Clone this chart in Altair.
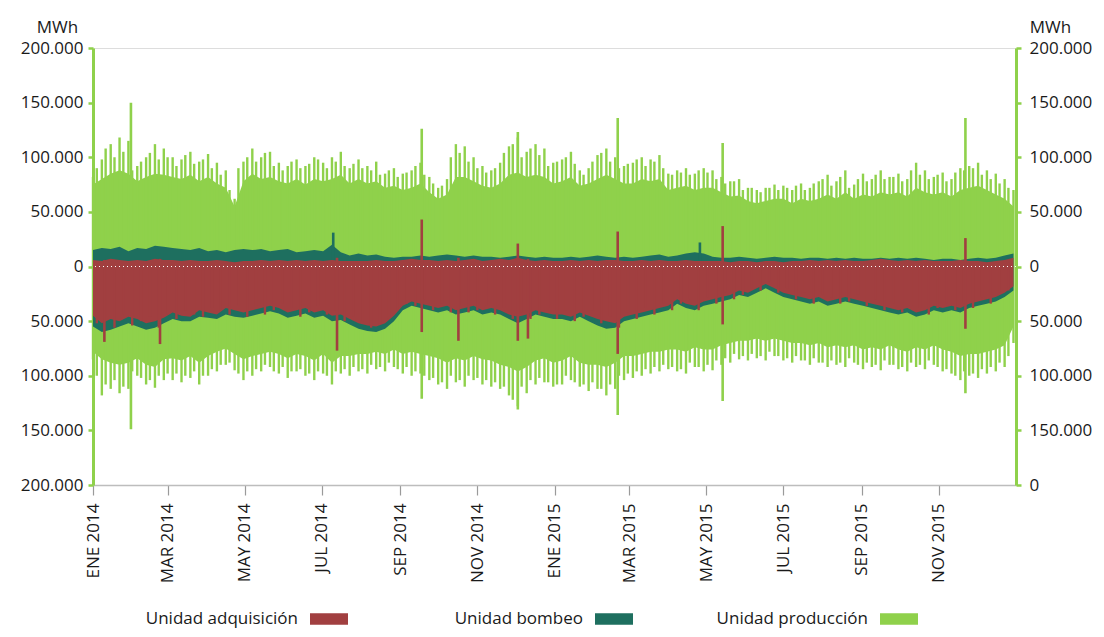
import altair as alt
import pandas as pd

# weekly sample dates (x categories) and mid-week dates
weeks = pd.date_range("2014-01-01", periods=105, freq="7D").strftime("%Y-%m-%d").tolist()
mid_weeks = pd.date_range("2014-01-04", periods=104, freq="7D").strftime("%Y-%m-%d").tolist()

# Unidad producción (thousand MWh) – upper peaks / solid base, lower peaks / solid base
g_top_peak = [82, 98, 112, 118, 115, 92, 100, 112, 108,
              100, 98, 105, 96, 103, 95, 88, 62, 96,
              108, 100, 105, 95, 92, 98, 92, 100, 95,
              100, 105, 90, 98, 92, 96, 85, 90, 85,
              88, 95, 82, 72, 80, 112, 110, 100, 92,
              88, 95, 110, 118, 105, 112, 108, 95,
              98, 105, 88, 90, 102, 108, 100, 92,
              95, 100, 98, 102, 85, 88, 90, 85, 90,
              88, 82, 78, 80, 72, 70, 72, 75, 74,
              70, 76, 72, 78, 84, 78, 88, 75, 85,
              80, 88, 82, 85, 80, 95, 88, 82, 86,
              80, 90, 92, 95, 88, 85, 80, 70]
g_top_base = [75, 80, 85, 88, 85, 78, 82, 85, 84,
              82, 80, 84, 78, 82, 76, 72, 55, 78,
              85, 80, 82, 78, 76, 80, 75, 80, 78,
              80, 84, 76, 80, 76, 78, 72, 74, 70,
              72, 76, 68, 62, 66, 82, 82, 78, 74,
              72, 76, 84, 86, 82, 84, 82, 76,
              78, 82, 74, 76, 80, 84, 80, 76,
              76, 80, 78, 80, 70, 72, 74, 70, 72,
              72, 68, 64, 65, 60, 58, 60, 62, 62,
              58, 62, 60, 62, 66, 62, 68, 62, 66,
              64, 68, 66, 68, 64, 72, 68, 66, 68,
              64, 70, 72, 74, 70, 66, 62, 55]
g_top_mid = [90, 108, 100, 105, 88, 96, 104, 98, 100,
             92, 102, 94, 98, 90, 84, 70, 90, 100,
             96, 104, 92, 88, 96, 90, 94, 98, 90,
             96, 92, 94, 90, 88, 84, 88, 82, 86,
             92, 84, 76, 74, 100, 104, 96, 90, 86,
             90, 104, 112, 100, 108, 102, 92, 96,
             100, 94, 84, 96, 104, 96, 90, 94,
             98, 92, 96, 90, 84, 86, 84, 88, 86,
             80, 76, 78, 70, 72, 68, 72, 70, 72,
             74, 70, 76, 80, 74, 82, 72, 80, 78,
             84, 80, 82, 78, 88, 84, 80, 84, 78,
             86, 88, 90, 84, 80, 76, 72]
g_low_peak = [85, 118, 112, 116, 112, 100, 108, 111, 104,
              104, 106, 102, 108, 100, 96, 90, 95, 104,
              100, 96, 92, 98, 102, 96, 100, 104, 98,
              108, 98, 100, 96, 98, 94, 96, 92, 98,
              100, 98, 104, 108, 112, 106, 110, 104, 108,
              110, 112, 118, 128, 116, 108, 106, 110,
              108, 104, 110, 114, 112, 118, 112, 104,
              102, 100, 98, 96, 94, 96, 98, 92, 96,
              95, 90, 88, 85, 86, 84, 86, 82, 86,
              88, 86, 90, 88, 92, 90, 92, 88, 94,
              92, 95, 90, 94, 96, 92, 94, 90, 96,
              98, 104, 100, 102, 98, 96, 92, 70]
g_low_base = [78, 85, 88, 90, 88, 84, 90, 92, 85,
              84, 86, 82, 88, 82, 78, 75, 80, 85,
              82, 80, 78, 80, 84, 80, 82, 86, 80,
              88, 82, 82, 80, 80, 78, 80, 76, 80,
              78, 80, 82, 84, 88, 84, 86, 82, 85,
              86, 90, 92, 96, 92, 86, 84, 88,
              86, 82, 88, 90, 90, 92, 88, 82,
              82, 80, 78, 78, 76, 76, 78, 74, 76,
              76, 72, 70, 68, 68, 66, 68, 66, 68,
              70, 70, 72, 70, 74, 72, 74, 72, 76,
              74, 76, 72, 76, 78, 74, 76, 72, 76,
              78, 82, 80, 80, 78, 76, 72, 55]
g_low_mid = [100, 108, 104, 110, 96, 102, 104, 100, 98,
             98, 100, 96, 100, 94, 90, 88, 98, 96,
             94, 90, 96, 92, 96, 94, 98, 96, 100,
             96, 94, 92, 94, 90, 92, 88, 94, 92,
             96, 100, 102, 106, 100, 104, 100, 102, 104,
             106, 110, 122, 110, 104, 102, 106, 108,
             100, 106, 108, 106, 112, 108, 100, 98,
             96, 94, 92, 90, 92, 94, 88, 92, 90,
             86, 84, 80, 82, 80, 82, 78, 82, 84,
             82, 86, 84, 88, 86, 88, 84, 90, 88,
             90, 86, 90, 92, 88, 90, 86, 92, 94,
             100, 96, 98, 94, 92, 88, 82]

# Unidad adquisición (thousand MWh)
red_low = [45, 52, 48, 50, 46, 48, 52, 50, 47,
           42, 45, 46, 40, 42, 44, 38, 40, 42,
           40, 38, 36, 38, 42, 40, 38, 42, 40,
           45, 44, 48, 52, 54, 55, 52, 45, 36,
           32, 34, 36, 38, 36, 40, 38, 36, 40,
           38, 40, 44, 46, 44, 40, 42, 44,
           44, 46, 42, 45, 48, 50, 52, 46,
           44, 42, 40, 38, 36, 30, 34, 36, 32,
           30, 28, 26, 22, 24, 20, 16, 20, 24,
           26, 28, 30, 28, 32, 30, 28, 30, 32,
           34, 36, 38, 40, 38, 42, 40, 36, 38,
           36, 38, 34, 32, 30, 28, 24, 18]
red_low_mid = [52, 46, 56, 44, 54, 50, 46, 56, 44,
               48, 40, 44, 46, 38, 40, 44, 36, 46,
               36, 44, 40, 34, 38, 46, 42, 36, 44,
               40, 50, 46, 50, 56, 52, 48, 40, 34,
               36, 30, 40, 34, 42, 36, 42, 40, 36,
               44, 38, 48, 42, 48, 44, 38, 48,
               40, 50, 46, 40, 52, 46, 56, 42,
               48, 38, 44, 34, 40, 34, 30, 40, 28,
               34, 24, 30, 26, 20, 22, 14, 24, 20,
               30, 24, 34, 26, 28, 34, 32, 26, 36,
               30, 40, 34, 42, 36, 38, 44, 38, 34,
               40, 34, 38, 28, 34, 24, 22]
red_top = [6, 5, 7, 6, 5, 6, 5, 7, 6,
           6, 5, 6, 5, 5, 6, 5, 4, 5,
           5, 6, 5, 6, 5, 6, 5, 6, 5,
           6, 5, 5, 5, 5, 6, 5, 5, 6,
           7, 6, 6, 5, 6, 5, 6, 7, 5,
           6, 7, 6, 8, 6, 5, 6, 5,
           5, 6, 5, 6, 5, 6, 6, 5,
           5, 6, 5, 6, 5, 5, 6, 5, 5,
           5, 5, 4, 5, 5, 4, 5, 5, 4,
           5, 5, 6, 5, 6, 5, 6, 5, 5,
           6, 7, 6, 5, 6, 5, 6, 5, 5,
           5, 6, 5, 5, 4, 5, 6, 8]

# Unidad bombeo (thousand MWh)
teal_low = [55, 60, 58, 55, 52, 55, 58, 56, 52,
            48, 50, 50, 46, 47, 48, 44, 46, 47,
            45, 43, 41, 43, 47, 45, 43, 47, 45,
            50, 49, 53, 57, 59, 60, 57, 50, 40,
            36, 38, 40, 42, 40, 44, 42, 40, 44,
            42, 44, 48, 52, 48, 44, 46, 48,
            48, 50, 46, 50, 54, 57, 56, 50,
            48, 46, 44, 42, 40, 34, 38, 40, 36,
            34, 32, 30, 26, 28, 24, 20, 24, 28,
            30, 32, 34, 32, 36, 34, 32, 34, 36,
            38, 40, 42, 44, 42, 46, 44, 40, 42,
            40, 42, 38, 36, 34, 32, 28, 22]
teal_top = [15, 17, 16, 18, 14, 17, 16, 19, 18,
            17, 16, 15, 17, 14, 15, 13, 15, 16,
            15, 16, 14, 15, 16, 13, 14, 15, 14,
            20, 13, 10, 12, 10, 11, 9, 8, 9,
            9, 10, 9, 10, 11, 10, 9, 10, 9,
            9, 8, 9, 10, 9, 8, 9, 8,
            8, 9, 8, 9, 10, 9, 8, 9,
            8, 9, 10, 11, 9, 10, 12, 13, 12,
            9, 8, 8, 9, 8, 7, 8, 9, 8,
            8, 7, 8, 8, 7, 8, 7, 8, 7,
            7, 8, 7, 8, 7, 8, 7, 6, 7,
            7, 6, 7, 8, 7, 8, 10, 12]

# isolated hourly extremes (thousand MWh)
green_spike_dates = ["2014-01-31", "2014-09-18", "2014-12-03", "2015-02-20", "2015-05-14", "2015-11-22"]
green_spike_top = [150, 126, 123, 136, 113, 136]
green_spike_low = [149, 121, 131, 136, 123, 116]
red_spike_dates = ["2014-01-10", "2014-02-23", "2014-07-13", "2014-09-18", "2014-10-17",
                   "2014-12-03", "2014-12-11", "2015-02-20", "2015-05-14", "2015-11-22"]
red_spike_top = [6, 7, 8, 43, 8, 21, 7, 32, 37, 26]
red_spike_low = [69, 71, 77, 60, 68, 68, 66, 80, 53, 57]
teal_spike_dates = ["2014-07-10", "2015-04-26"]
teal_spike_top = [31, 22]

series_names = ["Unidad adquisición", "Unidad bombeo", "Unidad producción"]
RED, TEAL, GREEN = "#a13f40", "#1e6f5f", "#8fd14b"

K = 1000
df = pd.DataFrame({
    "date": weeks,
    "gtp": [v * K for v in g_top_peak],
    "gtb": [v * K for v in g_top_base],
    "glp": [-v * K for v in g_low_peak],
    "glb": [-v * K for v in g_low_base],
    "rl": [-v * K for v in red_low],
    "rt": [v * K for v in red_top],
    "tl": [-v * K for v in teal_low],
    "tt": [v * K for v in teal_top],
})
dmid = pd.DataFrame({"date": mid_weeks,
                     "top": [v * K for v in g_top_mid],
                     "low": [-v * K for v in g_low_mid],
                     "rlow": [-v * K for v in red_low_mid],
                     "zero": [0 for _ in mid_weeks]})
gs = pd.DataFrame({"date": green_spike_dates,
                   "top": [v * K for v in green_spike_top],
                   "low": [-v * K for v in green_spike_low]})
rs = pd.DataFrame({"date": red_spike_dates,
                   "top": [v * K for v in red_spike_top],
                   "low": [-v * K for v in red_spike_low]})
ts = pd.DataFrame({"date": teal_spike_dates,
                   "top": [v * K for v in teal_spike_top],
                   "zero": [0 for _ in teal_spike_top]})

FONT = "Open Sans"
TXT = "#1a1a1a"

month_vals = [alt.DateTime(year=y, month=m, date=1, utc=True)
              for y in (2014, 2015) for m in (1, 3, 5, 7, 9, 11)]
xaxis = alt.Axis(values=month_vals,
                 labelExpr="['ENE','FEB','MAR','ABR','MAY','JUN','JUL','AGO','SEP','OCT','NOV','DIC'][utcmonth(datum.value)] + ' ' + utcyear(datum.value)",
                 labelAngle=270, labelAlign="right", labelBaseline="middle",
                 labelFontSize=17, labelFont=FONT, labelColor=TXT, labelPadding=8,
                 tickSize=10, tickColor="#9a9a9a", tickWidth=1.2,
                 domainColor="#bdbdbd", domainWidth=1.5, grid=False, title=None)
xscale = alt.Scale(type="utc",
                   domain=[alt.DateTime(year=2014, month=1, date=1, utc=True),
                           alt.DateTime(year=2016, month=1, date=1, utc=True)])
X = alt.X("date:T", scale=xscale, axis=xaxis)

yscale = alt.Scale(domain=[-200000, 200000], nice=False, zero=False)
yvals = [-200000, -150000, -100000, -50000, 0, 50000, 100000, 150000, 200000]
common_axis = dict(values=yvals, grid=False, domainColor=GREEN, domainWidth=3,
                   tickColor=GREEN, tickWidth=2.5, tickSize=5,
                   labelFontSize=17, labelFont=FONT, labelColor=TXT,
                   title="MWh", titleAngle=0, titleAlign="center", titleBaseline="alphabetic",
                   titleFontSize=17, titleFont=FONT, titleColor=TXT, titleFontWeight="normal",
                   titleY=-16)
left_axis = alt.Axis(orient="left", labelPadding=5, titleX=-36,
                     labelExpr="replace(format(abs(datum.value), ','), ',', '.')", **common_axis)
right_axis = alt.Axis(orient="right", labelPadding=8, titleX=34,
                      labelExpr="datum.value == -200000 ? '0' : replace(format(abs(datum.value), ','), ',', '.')",
                      **common_axis)

cscale = alt.Scale(domain=series_names, range=[RED, TEAL, GREEN])
legend = alt.Legend(title=None, orient="none", legendX=217, legendY=552, direction="horizontal",
                    symbolType="M-1,-0.3L1,-0.3L1,0.3L-1,0.3Z", symbolSize=1444,
                    symbolStrokeWidth=0, symbolOpacity=1,
                    labelAlign="right", labelOffset={"expr": "-50"}, labelFontSize=17, labelFont=FONT,
                    labelColor=TXT, labelLimit=300, columnPadding=83, gridAlign="all")
C = alt.Color("series:N", scale=cscale, legend=legend)

base = alt.Chart(df)

green_area = base.mark_area(opacity=1).transform_calculate(
    series="'Unidad producción'"
).encode(
    x=X,
    y=alt.Y("gtb:Q", scale=yscale, axis=left_axis),
    y2="glb:Q",
    color=C,
)
green_rules = base.mark_rule(strokeWidth=2.4, color=GREEN).encode(
    x=X,
    y=alt.Y("gtp:Q", scale=yscale, axis=right_axis),
    y2="glp:Q",
)
green_mid = alt.Chart(dmid).mark_rule(strokeWidth=2.4, color=GREEN).encode(
    x=X, y=alt.Y("top:Q", scale=yscale, axis=None), y2="low:Q")
green_spikes = alt.Chart(gs).mark_rule(strokeWidth=2.6, color=GREEN).encode(
    x=X, y=alt.Y("top:Q", scale=yscale, axis=None), y2="low:Q")

teal_area = base.mark_area(opacity=1).transform_calculate(
    series="'Unidad bombeo'"
).encode(
    x=X,
    y=alt.Y("tt:Q", scale=yscale, axis=None),
    y2="tl:Q",
    color=C,
)
teal_spikes = alt.Chart(ts).mark_rule(strokeWidth=2.6, color=TEAL).encode(
    x=X, y=alt.Y("top:Q", scale=yscale, axis=None), y2="zero:Q")

red_area = base.mark_area(opacity=1).transform_calculate(
    series="'Unidad adquisición'"
).encode(
    x=X,
    y=alt.Y("rt:Q", scale=yscale, axis=None),
    y2="rl:Q",
    color=C,
)
red_mid = alt.Chart(dmid).mark_rule(strokeWidth=2.4, color=RED).encode(
    x=X, y=alt.Y("zero:Q", scale=yscale, axis=None), y2="rlow:Q")
red_spikes = alt.Chart(rs).mark_rule(strokeWidth=2.6, color=RED).encode(
    x=X, y=alt.Y("top:Q", scale=yscale, axis=None), y2="low:Q")

zero_line = base.mark_rule(color="white", strokeDash=[1, 3], strokeWidth=1).encode(
    y=alt.YDatum(0, scale=yscale, axis=None))

chart = alt.layer(
    green_area, green_rules, green_mid, green_spikes, teal_area, teal_spikes,
    red_area, red_mid, red_spikes, zero_line
).resolve_axis(y="independent").properties(
    width=923, height=437,
    padding={"left": 85, "top": 40, "right": 80, "bottom": 144},
    autosize=alt.AutoSizeParams(type="none"),
).configure_view(stroke=None).configure(background="white")

chart.save("out.html", embed_options={"renderer": "svg", "actions": False})
